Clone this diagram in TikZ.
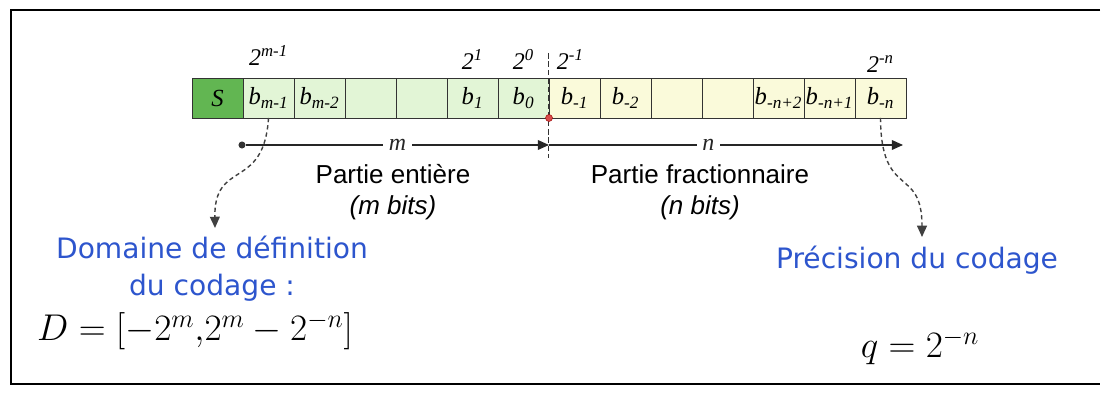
\documentclass[tikz,border=0pt]{standalone}
\usepackage{fix-cm}
\usepackage{fontspec}
\setmainfont{Liberation Serif}
\setsansfont{Liberation Sans}
\newfontfamily\verdfont{DejaVu Sans}
\usetikzlibrary{arrows.meta,positioning,calc}
\definecolor{signgreen}{RGB}{98,182,82}
\definecolor{intgreen}{RGB}{226,245,214}
\definecolor{fracyellow}{RGB}{250,250,218}
\definecolor{codeblue}{RGB}{45,85,205}
\definecolor{pointred}{RGB}{215,75,75}
\newcommand{\bitlbl}[1]{\textit{b}\textsubscript{\textit{#1}}}
\newcommand{\powlbl}[1]{\textit{2}\textsuperscript{\textit{#1}}}

\begin{document}
\begin{tikzpicture}[
  >={Triangle[length=8pt,width=7pt]},
  cell/.style={draw=black!80,line width=.6pt,minimum width=1.275cm,minimum height=1cm,inner sep=0pt,outer sep=0pt,font=\fontsize{17.5}{20}\selectfont},
  intcell/.style={cell,fill=intgreen},
  fraccell/.style={cell,fill=fracyellow},
  pow/.style={font=\fontsize{17}{19}\selectfont,inner sep=1pt},
  span/.style={->,line width=.8pt,black!85},
  link/.style={->,line width=1pt,black!75,dash pattern=on 3pt off 2.2pt},
  part/.style={font=\sffamily\fontsize{18.5}{22}\selectfont,align=center},
  note/.style={font=\verdfont\fontsize{20}{26}\selectfont,text=codeblue,align=center},
  formula/.style={font=\fontsize{26.5}{30}\selectfont},
  dot/.style={circle,fill=black!80,inner sep=0pt,minimum size=5pt}
]
\useasboundingbox (0,0) rectangle (27.575,9.825);
\draw[line width=1.3pt] (27.5,9.575) -- (0.275,9.575) -- (0.275,0.225) -- (27.5,0.225);

% register: sign bit, m integer bits, n fraction bits
\node[cell,fill=signgreen] (c0) at (5.4375,7.375) {\textit{S}};
\foreach \i/\txt in {1/{\bitlbl{m-1}},2/{\bitlbl{m-2}},3/{},4/{},5/{\bitlbl{1}},6/{\bitlbl{0}}}{
  \node[intcell] (c\i) at ({4.8+1.275*(\i+.5)},7.375) {\txt};
}
\foreach \i/\txt in {7/{\bitlbl{-1}},8/{\bitlbl{-2}},9/{},10/{},11/{\bitlbl{-n+2}},12/{\bitlbl{-n+1}},13/{\bitlbl{-n}}}{
  \node[fraccell] (c\i) at ({4.8+1.275*(\i+.5)},7.375) {\txt};
}

% weights above the cells
\node[pow,above=8pt of c1] (p1) {\powlbl{m-1}};
\node[pow,above=5pt of c5] (p5) {\powlbl{1}};
\node[pow,above=5pt of c6] (p6) {\powlbl{0}};
\node[pow,above=5pt of c7,xshift=-3pt] (p7) {\powlbl{-1}};
\node[pow,above=3pt of c13] (p13) {\powlbl{-n}};

% binary point
\coordinate (ptop) at (13.7,8.5);
\coordinate (pbot) at (13.7,5.875);
\draw[black!80,line width=.7pt,dash pattern=on 4pt off 2pt] (ptop) -- (pbot);

% m and n spans
\node[dot] (mstart) at (6.05,6.2) {};
\coordinate (mend) at (c6.south east |- mstart);
\coordinate (nend) at (22.575,6.2);
\draw[span] (mstart) -- node[fill=white,font=\itshape\fontsize{17}{20}\selectfont,inner sep=4pt] (mlbl) {m} (mend);
\draw[span] (mend) -- node[pos=.45,fill=white,font=\itshape\fontsize{17}{20}\selectfont,inner sep=4pt] (nlbl) {n} (nend);
\node[circle,fill=pointred,draw=red!60!black,line width=.3pt,inner sep=0pt,minimum size=5pt] (bpt) at (c6.south east) {};

\node[part] (intlbl) at (9.825,5.025) {Partie entière\\\textit{(m bits)}};
\node[part] (fraclbl) at (17.5,5.025) {Partie fractionnaire\\\textit{(n bits)}};

% range and precision
\coordinate (dtip) at (5.375,4.125);
\draw[link] (c1.south) .. controls (6.6,5.05) and (5.35,5.85) .. (dtip);
\coordinate (qtip) at (23.05,3.9);
\draw[link] (c13.south) .. controls (22.025,4.825) and (23.05,5.7) .. (qtip);
\node[note] (dom) at (5.3,3.11) {Domaine de définition\\du codage :};
\node[note] (prec) at (22.925,3.325) {Précision du codage};
\node[formula] (dform) at (4.875,1.55) {$D=[-2^m{,}2^m-2^{-n}]$};
\node[formula] (qform) at (23.0,1.15) {$q=2^{-n}$};
\end{tikzpicture}
\end{document}
